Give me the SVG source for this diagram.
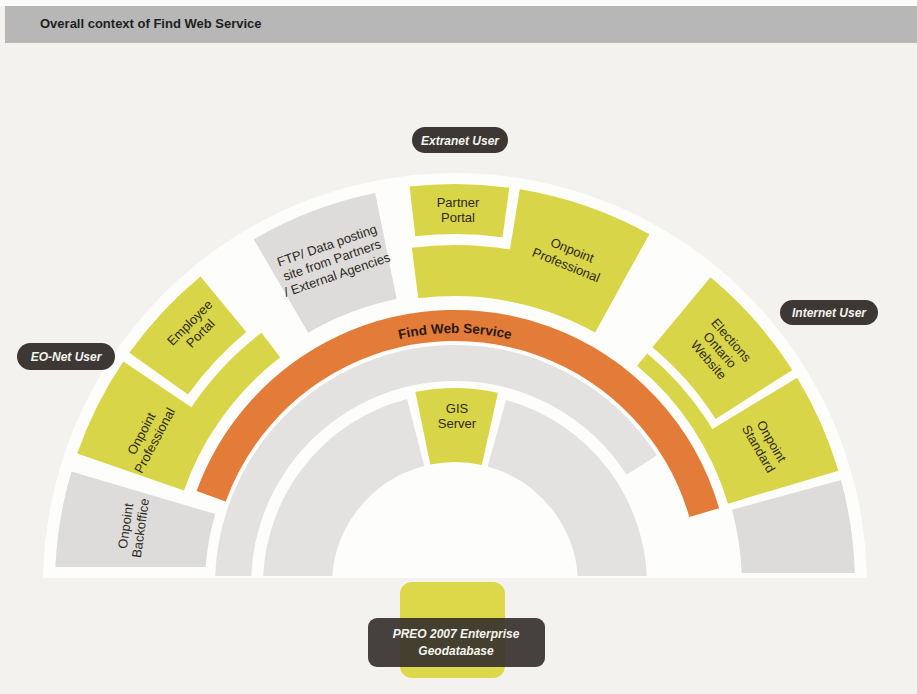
<svg xmlns="http://www.w3.org/2000/svg" width="917" height="694" viewBox="0 0 917 694">
  <style>
    .sec { fill: none; stroke-linecap: butt; }
    .yel { stroke: #d9d548; }
    .gry { stroke: #dedcdb; }
    .band { stroke: #e4e2e0; }
    .org { stroke: #e37c38; }
    .lbl { font-family: "Liberation Sans", Arial, sans-serif; font-size: 13px; fill: #2d2a1c; text-anchor: middle; }
    .pill { fill: #3d3833; }
    .ptxt { font-family: "Liberation Sans", Arial, sans-serif; font-size: 12px; font-weight: bold; font-style: italic; fill: #f4f4f0; text-anchor: middle; }
  </style>
  <defs>
    <clipPath id="cut567"><rect x="0" y="0" width="917" height="567"/></clipPath>
    <clipPath id="cut573"><rect x="0" y="0" width="917" height="573"/></clipPath>
    <clipPath id="cut576"><rect x="0" y="0" width="917" height="576"/></clipPath>
    <clipPath id="cut578"><rect x="0" y="0" width="917" height="578"/></clipPath>
    <path id="fwsArc" d="M203,585 A252,252 0 0 1 707,585"/>
  </defs>

  <!-- page and heading -->
  <rect x="0" y="0" width="917" height="694" fill="#f3f2ee"/>
  <rect x="0" y="0" width="917" height="6" fill="#fbfbfa"/>
  <rect x="5" y="6" width="912" height="37" fill="#b7b7b7"/>
  <text x="40" y="28" font-family="Liberation Sans, Arial, sans-serif" font-size="13" font-weight="bold" fill="#1e1e1e">Overall context of Find Web Service</text>

  <!-- white semicircle carrying all rings -->
  <circle cx="455" cy="585" r="412" fill="#fdfdfb" clip-path="url(#cut578)"/>

  <!-- inner rings -->
  <g id="inner-rings" clip-path="url(#cut576)">
    <circle class="sec band" cx="455" cy="585" r="222" stroke-width="36" pathLength="360" stroke-dasharray="148.3 400" transform="rotate(-181 455 585)"/>
    <circle class="sec band" cx="455" cy="585" r="157.5" stroke-width="69" pathLength="360" stroke-dasharray="76.5 400" transform="rotate(-181 455 585)"/>
    <circle class="sec band" cx="455" cy="585" r="157.5" stroke-width="69" pathLength="360" stroke-dasharray="75.6 400" transform="rotate(-74.6 455 585)"/>
  </g>

  <g id="gis-server">
    <circle class="sec yel" cx="455" cy="585" r="160" stroke-width="74" pathLength="360" stroke-dasharray="24.2 400" transform="rotate(-101.6 455 585)"/>
    <text class="lbl" x="457" y="413">GIS</text>
    <text class="lbl" x="457" y="428">Server</text>
  </g>

  <g id="find-web-service">
    <circle class="sec org" cx="455" cy="585" r="259.5" stroke-width="31" pathLength="360" stroke-dasharray="143.8 400" transform="rotate(-160 455 585)"/>
    <text font-family="Liberation Sans, Arial, sans-serif" font-size="13.5" font-weight="bold" fill="#2a1a10" text-anchor="middle"><textPath href="#fwsArc" startOffset="50%">Find Web Service</textPath></text>
  </g>

  <!-- EO-Net user side -->
  <g id="onpoint-backoffice">
    <g clip-path="url(#cut567)">
      <circle class="sec gry" cx="455" cy="585" r="325" stroke-width="150" pathLength="360" stroke-dasharray="17.5 400" transform="rotate(-181 455 585)"/>
    </g>
    <text class="lbl" transform="translate(133 527) rotate(-82)"><tspan x="0" y="-3">Onpoint</tspan><tspan x="0" y="12">Backoffice</tspan></text>
  </g>

  <g id="onpoint-professional-eonet">
    <circle class="sec yel" cx="455" cy="585" r="343.5" stroke-width="113" pathLength="360" stroke-dasharray="14.8 400" transform="rotate(-160.8 455 585)"/>
    <circle class="sec yel" cx="455" cy="585" r="302.5" stroke-width="31" pathLength="360" stroke-dasharray="19.5 400" transform="rotate(-147 455 585)"/>
    <text class="lbl" transform="translate(148 437) rotate(-62)"><tspan x="0" y="-3">Onpoint</tspan><tspan x="0" y="12">Professional</tspan></text>
  </g>

  <g id="employee-portal">
    <circle class="sec yel" cx="455" cy="585" r="364" stroke-width="72" pathLength="360" stroke-dasharray="15 400" transform="rotate(-144.5 455 585)"/>
    <text class="lbl" transform="translate(195 328) rotate(-45)"><tspan x="0" y="-3">Employee</tspan><tspan x="0" y="12">Portal</tspan></text>
  </g>

  <!-- Extranet user side -->
  <g id="ftp-site">
    <circle class="sec gry" cx="455" cy="585" r="346" stroke-width="108" pathLength="360" stroke-dasharray="18.7 400" transform="rotate(-120.2 455 585)"/>
    <text class="lbl" transform="translate(332 260) rotate(-19)"><tspan x="0" y="-11">FTP/ Data posting</tspan><tspan x="0" y="4.5">site from Partners</tspan><tspan x="0" y="20">/ External Agencies</tspan></text>
  </g>

  <g id="partner-portal">
    <circle class="sec yel" cx="455" cy="585" r="376" stroke-width="50" pathLength="360" stroke-dasharray="14.3 400" transform="rotate(-96.5 455 585)"/>
    <text class="lbl" x="458" y="207">Partner</text>
    <text class="lbl" x="458" y="222">Portal</text>
  </g>

  <g id="onpoint-professional-extranet">
    <circle class="sec yel" cx="455" cy="585" r="314.5" stroke-width="51" pathLength="360" stroke-dasharray="36.3 400" transform="rotate(-97.3 455 585)"/>
    <circle class="sec yel" cx="455" cy="585" r="345" stroke-width="112" pathLength="360" stroke-dasharray="19.7 400" transform="rotate(-80.7 455 585)"/>
    <text class="lbl" transform="translate(569 258) rotate(22)"><tspan x="0" y="-4">Onpoint</tspan><tspan x="0" y="12">Professional</tspan></text>
  </g>

  <!-- Internet user side -->
  <g id="elections-ontario-website">
    <circle class="sec yel" cx="455" cy="585" r="354.5" stroke-width="91" pathLength="360" stroke-dasharray="17.8 400" transform="rotate(-50.3 455 585)"/>
    <text class="lbl" transform="translate(720 350) rotate(49)"><tspan x="0" y="-10.5">Elections</tspan><tspan x="0" y="4.5">Ontario</tspan><tspan x="0" y="19.5">Website</tspan></text>
  </g>

  <g id="onpoint-standard">
    <circle class="sec yel" cx="455" cy="585" r="342.5" stroke-width="115" pathLength="360" stroke-dasharray="14.6 400" transform="rotate(-31.2 455 585)"/>
    <circle class="sec yel" cx="455" cy="585" r="293" stroke-width="16" pathLength="360" stroke-dasharray="33.7 400" transform="rotate(-50.3 455 585)"/>
    <text class="lbl" transform="translate(765 445) rotate(60)"><tspan x="0" y="-3">Onpoint</tspan><tspan x="0" y="12">Standard</tspan></text>
  </g>

  <g id="internet-blank">
    <g clip-path="url(#cut573)">
      <circle class="sec gry" cx="455" cy="585" r="343.5" stroke-width="113" pathLength="360" stroke-dasharray="16.2 400" transform="rotate(-15.2 455 585)"/>
    </g>
  </g>

  <!-- user labels -->
  <g id="extranet-user">
    <rect class="pill" x="412" y="127" width="96" height="26" rx="13"/>
    <text class="ptxt" x="460" y="144.5">Extranet User</text>
  </g>
  <g id="eonet-user">
    <rect class="pill" x="17" y="343" width="98" height="27" rx="13.5"/>
    <text class="ptxt" x="66" y="361">EO-Net User</text>
  </g>
  <g id="internet-user">
    <rect class="pill" x="780" y="300" width="98" height="25" rx="12.5"/>
    <text class="ptxt" x="829" y="317">Internet User</text>
  </g>

  <!-- enterprise geodatabase -->
  <g id="preo-geodatabase">
    <rect x="400" y="582" width="105" height="96" rx="12" fill="#dcd84a"/>
    <rect x="368" y="618" width="177" height="49" rx="9" fill="#37322d" fill-opacity="0.92"/>
    <text class="ptxt" x="456" y="638">PREO 2007 Enterprise</text>
    <text class="ptxt" x="456" y="655">Geodatabase</text>
  </g>

  <g id="connectors"/>
</svg>
